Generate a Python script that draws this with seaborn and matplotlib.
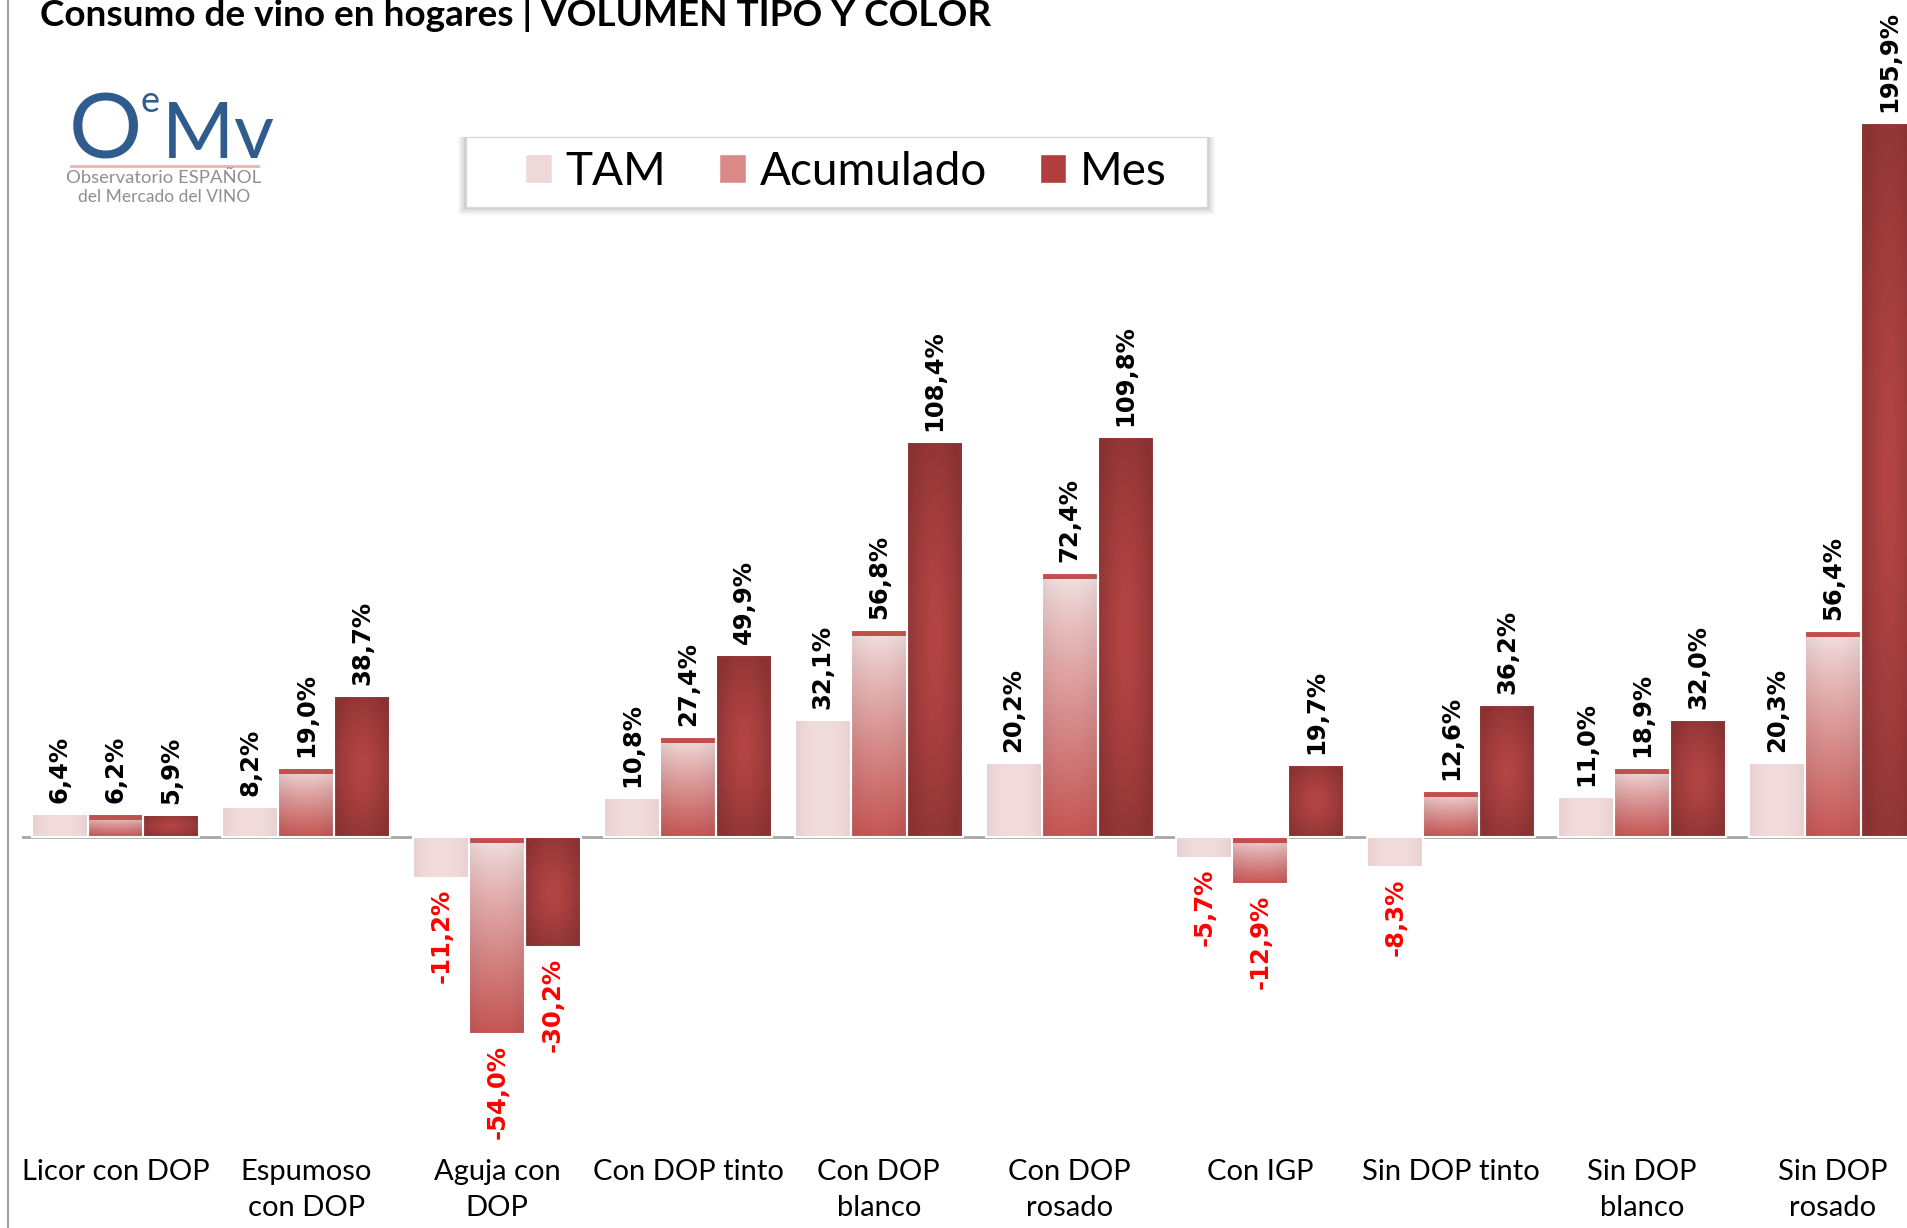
import numpy as np
import pandas as pd
import matplotlib.pyplot as plt
import seaborn as sns
from matplotlib.colors import to_rgb
from matplotlib.lines import Line2D
from matplotlib.patches import Rectangle

# Datos (variación %, volumen)
categorias = ["Licor con DOP", "Espumoso\ncon DOP", "Aguja con\nDOP", "Con DOP tinto",
              "Con DOP\nblanco", "Con DOP\nrosado", "Con IGP", "Sin DOP tinto",
              "Sin DOP\nblanco", "Sin DOP\nrosado"]
series = ["TAM", "Acumulado", "Mes"]
tam = [6.4, 8.2, -11.2, 10.8, 32.1, 20.2, -5.7, -8.3, 11.0, 20.3]
acumulado = [6.2, 19.0, -54.0, 27.4, 56.8, 72.4, -12.9, 12.6, 18.9, 56.4]
mes = [5.9, 38.7, -30.2, 49.9, 108.4, 109.8, 19.7, 36.2, 32.0, 195.9]

df = pd.DataFrame({
    "Categoria": categorias * 3,
    "Serie": [s for s in series for _ in categorias],
    "Valor": tam + acumulado + mes,
})

W, H = 1908, 1228
fig = plt.figure(figsize=(W / 100, H / 100), dpi=100)
ax = fig.add_axes([22 / W, (H - 1140) / H, 1 - 22 / W, 1140 / H])

sns.barplot(data=df, x="Categoria", y="Valor", hue="Serie", order=categorias,
            hue_order=series, palette=["#efd8d8", "#d98a88", "#a83c3c"],
            width=0.88, errorbar=None, edgecolor="white", linewidth=1.5,
            legend=False, ax=ax)

xlim = (-0.49, 9.394)
ylim = (-(1140 - 837) / 3.645, 837 / 3.645)


def grad_acum(n=200, m=40):
    top = np.array(to_rgb("#f4e6e6"))
    bot = np.array(to_rgb("#c55654"))
    t = np.linspace(0, 1, n)[:, None, None] ** 0.8
    img = top * (1 - t) + bot * t
    img = np.repeat(img, m, axis=1)
    xx = np.abs(np.linspace(-1, 1, m))[None, :, None]
    img = img * (1 - 0.06 * xx ** 2)
    return img


def grad_mes(n=200, m=40):
    c = np.array(to_rgb("#b54545"))
    e = np.array(to_rgb("#8a3232"))
    yy, xx = np.mgrid[-1:1:complex(n), -1:1:complex(m)]
    r = np.clip(np.sqrt(xx ** 2 + yy ** 2) / 1.2, 0, 1)[..., None] ** 1.3
    return c * (1 - r) + e * r


def grad_tam(n=20, m=40):
    c = np.array(to_rgb("#f1dcdc"))
    e = np.array(to_rgb("#ead0d0"))
    xx = np.abs(np.linspace(-1, 1, m))[None, :, None]
    img = c * (1 - xx ** 2) + e * xx ** 2
    return np.repeat(img, n, axis=0)


makers = [grad_tam, grad_acum, grad_mes]
for cont, mk in zip(ax.containers, makers):
    for p in cont.patches:
        x0, y0 = p.get_x(), p.get_y()
        w, h = p.get_width(), p.get_height()
        lo, hi = min(y0, y0 + h), max(y0, y0 + h)
        im = ax.imshow(mk(), extent=(x0, x0 + w, lo, hi), aspect="auto",
                       origin="upper", zorder=p.get_zorder() + 0.1,
                       interpolation="bilinear")
        im.set_clip_path(p)
        if mk is grad_acum:
            # franja roja superior
            cap = 1.6
            ax.add_patch(Rectangle((x0, hi - cap), w, cap, color="#c0504d",
                                   zorder=p.get_zorder() + 0.2, lw=0))
        p.set_zorder(p.get_zorder() + 0.3)
        p.set_facecolor("none")

# Etiquetas de datos
for cont, vals in zip(ax.containers, [tam, acumulado, mes]):
    labels = [f"{v:.1f}".replace(".", ",") + "%" for v in vals]
    texts = ax.bar_label(cont, labels=labels, rotation=90, padding=8,
                         fontsize=17.5, fontweight="bold", family="DejaVu Sans")
    for t, v in zip(texts, vals):
        t.set_color("#ff0000" if v < 0 else "black")

ax.axhline(0, color="#a6a6a6", lw=2, zorder=1)
ax.set_xlim(*xlim)
ax.set_ylim(*ylim)
for s in ax.spines.values():
    s.set_visible(False)
ax.set_yticks([])
ax.set_xlabel("")
ax.set_ylabel("")
ax.tick_params(axis="x", length=0, pad=14)
for lab in ax.get_xticklabels():
    lab.set_fontfamily("Lato")
    lab.set_fontsize(21)
    lab.set_linespacing(1.45)

# Leyenda: caja con sombra dibujada aparte
bx0, bx1, by0, by1 = 466, 1207, 137, 207
for k, a in [(8, 0.05), (6, 0.07), (4, 0.09), (2, 0.12)]:
    fig.add_artist(Rectangle(((bx0 - k) / W, 1 - (by1 + k) / H),
                             (bx1 - bx0 + 2 * k) / W, (by1 - by0 + k) / H,
                             transform=fig.transFigure, facecolor="#606060",
                             alpha=a, lw=0, zorder=4))
fig.add_artist(Rectangle((bx0 / W, 1 - by1 / H), (bx1 - bx0) / W, (by1 - by0) / H,
                         transform=fig.transFigure, facecolor="white",
                         edgecolor="#d9d9d9", lw=1, zorder=4.5))
handles = [Rectangle((0, 0), 1, 1, facecolor=c, edgecolor="white")
           for c in ["#efd8d8", "#d98a88", "#b03e3e"]]
leg = fig.legend(handles, series, ncol=3, loc="center",
                 bbox_to_anchor=(846 / W, 1 - 172 / H),
                 prop={"family": "Lato", "size": 33}, frameon=False,
                 handlelength=0.58, handleheight=0.6, handletextpad=0.3,
                 columnspacing=1.15, borderpad=0.3)
leg.set_zorder(5)

# Título
fig.text(40 / W, 1 - 26 / H, "Consumo de vino en hogares | VOLUMEN TIPO Y COLOR",
         fontsize=26.6, fontweight="bold", family="Lato", va="baseline")

# Logo
blue = "#2f5c8c"
renderer = fig.canvas.get_renderer()
xpos = 68
for txt, size, base in [("O", 66, 158), ("e", 26, 112), ("Mv", 56, 158)]:
    t = fig.text(xpos / W, 1 - base / H, r"$\mathregular{%s}$" % txt, fontsize=size,
                 color=blue, family="Lato", va="baseline")
    bb = t.get_window_extent(renderer)
    xpos = bb.x1 + 1
fig.add_artist(Line2D([71 / W, 258 / W], [1 - 166 / H] * 2, color="#e8b4b4", lw=2))
fig.text(164 / W, 1 - 178 / H, "Observatorio ESPAÑOL", fontsize=13.3, color="#8f8f8f",
         family="Lato", ha="center", va="center")
fig.text(164 / W, 1 - 197 / H, "del Mercado del VINO", fontsize=12.5, color="#8f8f8f",
         family="Lato", ha="center", va="center")

# Borde izquierdo
fig.add_artist(Line2D([8 / W, 8 / W], [0, 1], color="#a0a0a0", lw=1.5))

fig.savefig("out.png", dpi=100)
